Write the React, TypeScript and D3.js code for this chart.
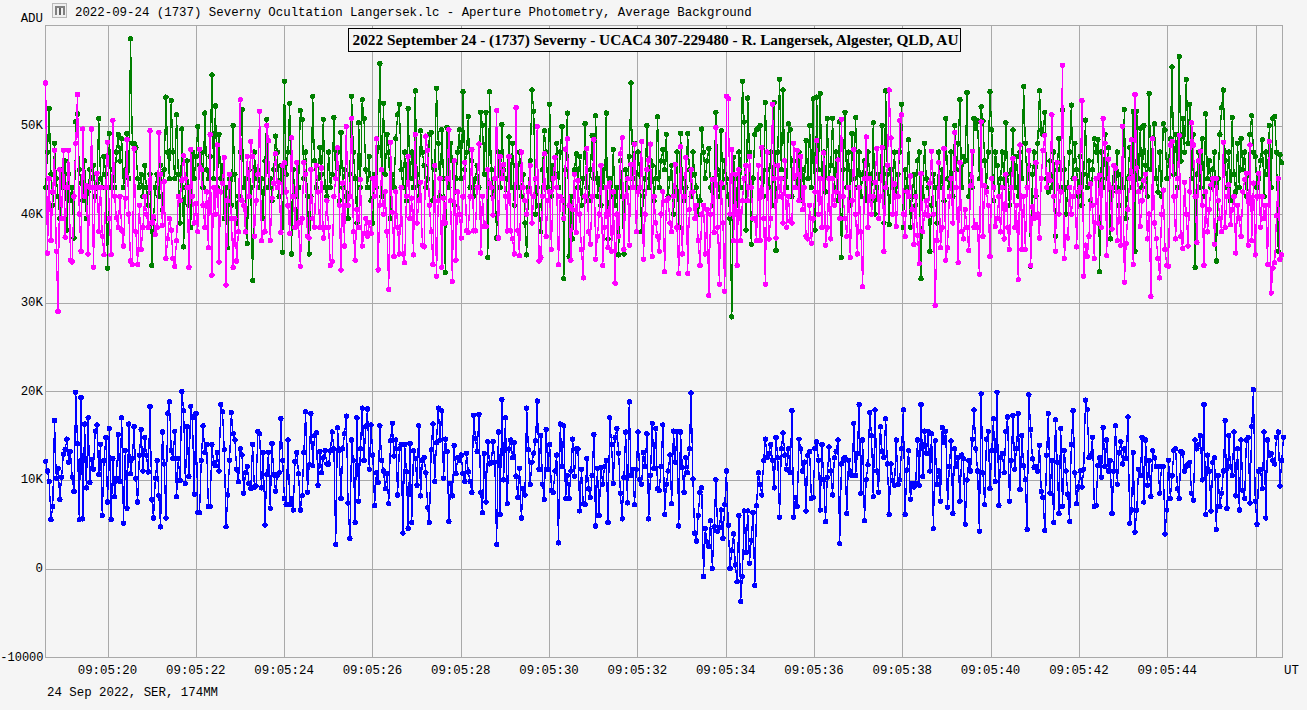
import React from "react";
import * as d3 from "d3";

// All photometry values are in hundreds of ADU.
const greenSeries = [
430,470,519,445,410,480,440,420,395,450,
430,460,382,445,415,430,373,504,513,450,
435,415,460,395,425,450,440,455,420,435,
508,440,430,465,445,339,491,430,450,430,
470,490,460,485,430,450,491,440,598,480,
480,475,440,430,445,420,455,430,410,445,
342,395,430,445,420,455,405,450,532,470,
440,528,470,440,512,445,390,496,363,430,
460,410,385,470,440,465,499,455,470,430,
514,450,440,465,557,440,522,430,490,440,
455,395,430,362,440,410,500,445,390,420,
470,518,430,440,367,450,430,325,470,440,
450,430,440,395,460,507,430,440,415,450,
488,470,420,455,357,550,445,470,525,355,
450,420,395,430,517,507,440,470,420,355,
420,533,460,430,440,475,445,507,430,420,
470,430,445,509,440,470,415,492,430,450,
420,395,445,533,470,440,390,503,430,529,
508,450,430,465,415,390,445,430,475,570,
420,525,445,490,470,395,445,430,485,512,
524,450,430,470,415,519,440,470,430,539,
445,420,494,470,455,430,440,490,492,415,
450,542,480,420,495,440,334,498,430,480,
460,410,440,470,495,
440,538,450,470,510,430,460,420,440,455,
430,515,500,445,515,351,538,450,420,440,
373,470,430,501,450,420,440,487,430,480,
410,455,430,470,420,445,390,354,430,460,
540,516,400,430,410,380,450,494,470,430,
524,420,455,445,480,430,470,499,327,450,
514,352,420,372,450,468,430,465,410,440,
502,430,415,450,489,440,511,420,440,410,
450,430,514,372,440,420,473,410,430,354,
460,420,355,450,430,465,548,440,480,430,
470,445,380,420,440,500,430,460,455,415,
440,510,430,460,473,450,490,420,440,455,
400,430,470,385,491,440,415,430,491,450,
420,470,445,430,400,415,496,470,440,460,
474,430,410,440,515,450,420,494,430,460,
440,420,395,284,464,440,410,470,430,550,
504,382,531,470,366,440,490,495,497,500,
440,420,526,450,430,470,410,526,359,470,
552,450,540,440,430,502,495,420,460,440,
430,470,415,450,430,483,440,500,430,530,
382,532,450,536,440,470,425,508,440,455,
508,430,470,415,504,351,450,515,430,470,
410,491,440,509,430,470,420,445,460,415,
470,445,415,503,400,430,445,440,500,390,539,
445,388,450,430,470,420,445,470,524,385,
450,430,484,385,420,445,410,460,470,327,
420,480,440,430,358,410,445,430,390,470,
430,450,415,508,440,430,470,420,500,450,
480,529,430,465,460,537,420,445,430,508,
497,505,440,521,505,460,430,470,538,495,
415,470,455,420,440,470,430,503,445,410,
450,495,430,465,420,470,440,544,480,430,
455,341,445,470,420,480,539,495,490,515,
440,425,460,430,470,375,450,485,430,517,
450,400,430,470,523,440,480,450,420,465,
410,445,506,430,460,415,450,485,470,484,
335,470,430,490,440,475,372,425,455,430,
470,410,445,430,518,395,440,475,430,516,
358,516,440,497,430,500,455,420,536,450,
485,502,440,425,470,420,502,495,440,460,
485,566,445,490,430,578,460,508,470,552,
480,524,440,490,340,445,470,430,485,420,
513,440,460,430,450,470,347,440,490,520,
540,460,430,470,415,509,445,425,480,430,
485,450,470,420,445,490,511,470,465,430,
440,460,484,420,470,445,500,430,508,510,470,358,467,458];

const magentaSeries = [
548,356,440,370,425,472,358,290,450,395,
472,374,430,472,348,346,420,480,535,400,
358,496,420,432,355,430,496,340,430,446,
380,430,375,354,430,481,395,354,506,420,
396,385,420,382,364,418,484,400,347,343,
474,380,343,410,360,385,420,400,385,494,
390,397,377,385,492,445,387,437,350,372,
395,382,350,341,370,420,415,438,466,440,
430,340,473,420,390,412,380,473,450,410,
385,425,362,490,331,430,400,478,346,425,
435,464,320,415,445,395,340,395,347,380,
529,415,410,380,465,420,482,465,375,415,
445,516,370,379,380,500,483,370,418,435,
468,430,435,379,455,458,425,410,378,486,
420,385,458,390,341,395,458,445,375,373,
450,395,385,455,425,385,452,373,385,415,
385,342,346,420,440,475,410,337,435,364,
499,410,420,508,380,348,405,385,439,364,
378,395,375,390,378,440,420,485,337,410,
450,400,425,380,315,481,402,352,425,385,
355,430,355,345,420,465,395,418,354,490,
390,415,436,365,363,488,472,410,380,343,
455,330,415,440,340,418,390,440,495,415,
324,460,348,425,400,
373,420,458,381,379,420,473,381,381,430,
479,356,420,386,386,450,435,430,399,440,
517,373,465,440,456,420,381,465,381,372,
355,520,381,353,470,430,415,400,425,455,
390,420,440,499,347,351,420,468,375,415,
425,360,440,464,430,343,420,415,395,473,
485,410,348,405,445,379,438,400,360,328,
420,474,380,366,420,484,349,375,400,455,
342,385,430,362,435,358,425,322,400,375,
468,486,360,420,440,365,456,430,479,380,
425,430,482,349,400,450,461,479,352,420,
390,375,358,400,425,335,415,418,390,380,
420,456,385,333,476,355,420,464,333,405,
450,425,395,410,370,342,400,410,355,405,
308,400,439,379,498,385,321,435,390,313,
533,530,400,473,370,445,342,450,370,415,
440,455,415,465,430,395,395,370,455,370,
475,395,321,470,372,395,524,440,373,455,
420,440,390,460,385,420,392,390,480,430,
472,415,465,405,430,375,372,410,367,395,
425,483,400,440,385,469,365,385,440,372,
440,410,425,461,395,507,420,395,375,430,
351,415,473,400,355,430,380,318,440,487,
385,440,400,420,436,474,395,420,475,358,430,
455,540,486,400,434,386,420,506,512,400,
375,425,420,443,405,366,420,376,344,446,
380,400,415,398,435,471,400,297,370,458,
362,385,474,348,362,420,440,390,492,430,
345,458,380,372,405,385,359,432,471,385,
388,385,332,504,375,432,425,410,352,440,
430,386,395,420,380,430,372,445,385,360,
430,463,385,410,326,478,360,420,360,430,
472,342,408,395,458,400,373,440,472,489,
430,445,438,512,420,358,458,400,425,568,
350,375,373,430,400,420,440,363,425,430,
528,330,365,352,375,434,410,350,440,390,
444,385,508,480,353,462,430,383,455,452,
370,425,365,499,323,367,405,440,484,343,
535,452,425,386,415,438,445,372,400,307,
485,390,372,350,328,400,427,360,342,341,
478,482,420,372,440,489,375,361,436,400,
364,425,503,478,420,368,460,471,410,342,
425,380,405,433,440,366,440,415,395,380,
481,385,420,433,388,405,420,356,410,395,
375,425,439,446,365,478,370,435,354,420,
446,385,420,395,410,343,482,311,339,345,398,440,349,354];

const blueSeries = [
121,110,98,55,70,167,102,113,78,103,
129,134,146,120,132,103,87,199,141,55,
193,56,163,91,170,97,123,112,155,162,
106,140,60,122,148,75,158,55,124,81,
102,151,98,170,51,133,68,163,107,124,
160,102,75,128,157,110,148,128,109,183,
78,57,102,122,82,47,154,118,57,175,
188,133,124,155,81,124,99,200,178,96,
160,104,183,170,84,175,63,63,122,161,
131,140,70,70,140,119,116,131,110,185,
177,134,47,83,122,176,152,145,112,98,
135,128,85,108,115,96,90,140,92,93,
155,152,91,131,49,106,131,68,141,106,
87,105,108,169,122,79,72,145,72,79,
66,121,131,107,66,82,131,177,86,117,
175,116,150,153,94,132,108,125,133,118,
118,133,154,135,27,159,133,79,135,152,
172,74,34,145,122,52,170,76,135,181,
122,160,180,112,162,128,71,108,97,161,
122,110,90,107,73,144,164,127,145,83,
135,140,40,140,109,45,141,52,133,124,
94,161,82,122,125,108,69,52,134,163,
98,142,181,145,178,102,146,132,53,96,
82,139,107,125,122,
128,107,98,130,109,98,86,173,147,132,
174,86,63,130,75,143,118,120,143,120,
27,154,61,191,100,170,73,135,145,125,
142,104,80,113,57,90,83,181,134,95,
120,130,144,189,112,150,95,78,157,112,
140,88,86,110,128,29,163,115,161,79,
105,79,110,146,104,135,135,65,112,73,
72,124,90,80,105,151,48,113,60,114,
95,115,122,52,170,140,96,148,158,130,
85,56,103,154,74,188,105,112,72,112,
154,100,95,131,115,152,56,105,164,113,
158,90,88,115,162,61,95,110,128,73,
155,120,155,48,154,114,86,125,108,135,
198,101,40,31,60,86,91,-9,45,30,
25,54,0,47,100,42,46,66,34,72,
110,49,0,20,39,4,-15,60,-37,-9,
65,18,65,6,32,63,-19,71,108,95,
83,122,146,125,130,140,122,91,148,125,
58,135,153,128,112,135,108,178,58,80,
70,146,135,110,120,65,128,132,79,80,
135,143,122,66,140,100,53,103,137,110,
83,125,132,145,28,118,123,125,62,122,
110,105,164,105,130,185,85,145,54,100,
117,176,150,81,179,110,86,160,132,125,
169,118,61,118,99,94,145,95,100,135,
179,61,111,133,78,96,92,96,145,94,
185,104,155,130,155,110,152,45,144,95,
110,76,159,142,155,69,115,144,62,135,
115,125,76,128,124,50,100,122,110,146,
179,135,110,42,197,108,72,146,155,90,
133,169,98,199,71,125,130,108,155,171,
76,122,173,112,135,175,89,150,116,100,
44,196,157,124,114,115,110,139,87,80,
43,128,175,85,122,52,168,120,62,158,
70,133,110,84,53,140,178,108,73,92,
110,92,112,190,179,125,128,148,70,71,
116,125,103,159,115,145,110,122,62,110,
161,95,131,143,118,135,124,171,51,66,
131,41,66,112,105,148,75,145,94,122,
81,133,125,115,115,85,115,115,39,66,
122,79,105,133,135,90,79,132,130,110,
115,118,120,85,77,145,135,140,150,100,
185,61,128,110,65,120,125,44,105,70,
85,110,167,68,150,115,105,154,82,135,
66,145,88,79,145,148,74,160,202,76,
50,110,112,90,154,57,145,128,130,122,118,148,154,93,122,148];

const yTickValues = [0, 100, 200, 300, 400, 500];
const yTickLabels = ["0", "10K", "20K", "30K", "40K", "50K"];
const xTickSeconds = [20, 22, 24, 26, 28, 30, 32, 34, 36, 38, 40, 42, 44, 46];
const xTickLabels = ["09:05:20", "09:05:22", "09:05:24", "09:05:26", "09:05:28", "09:05:30", "09:05:32", "09:05:34", "09:05:36", "09:05:38", "09:05:40", "09:05:42", "09:05:44", ""];

const W = 1307, H = 710;
const L = 45.5, R = 1282.5, T = 25.5, B = 657.5;
const MONO = "'Liberation Mono', monospace";
const GRID = "#a9a9a9";
const BG = "#f5f5f5";

const startSecond = 18.6;
const frameInterval = 0.04005;
const x = d3.scaleLinear().domain([20, 46]).range([107.5, 1255.5]);
const y = d3.scaleLinear().domain([-100, 0, 500]).range([B, 568.5, 125.5]);

function Series({ data, color }: { data: number[]; color: string }) {
  const pts = data.map((v, i) => [x(startSecond + i * frameInterval), y(v)] as [number, number]);
  const line = d3.line();
  return (
    <g>
      <path d={line(pts) || ""} fill="none" stroke={color} strokeWidth={1.3} shapeRendering="crispEdges" />
      {pts.map((p, i) => (
        <circle key={i} cx={p[0]} cy={p[1]} r={2.7} fill={color} shapeRendering="crispEdges" />
      ))}
    </g>
  );
}

export default function App() {
  return (
    <svg width={W} height={H} style={{ position: "absolute", left: 0, top: 0, display: "block", background: BG }}>
      <rect x={L} y={T} width={R - L} height={B - T} fill="none" stroke={GRID} strokeWidth={1} shapeRendering="crispEdges" />
      {xTickSeconds.map((s) => (
        <line key={s} x1={Math.round(x(s)) + 0.5} x2={Math.round(x(s)) + 0.5} y1={T} y2={B} stroke={GRID} shapeRendering="crispEdges" />
      ))}
      {yTickValues.map((v) => (
        <line key={v} x1={L} x2={R} y1={Math.round(y(v)) + 0.5} y2={Math.round(y(v)) + 0.5} stroke={GRID} shapeRendering="crispEdges" />
      ))}
      <Series data={greenSeries} color="#008000" />
      <Series data={magentaSeries} color="#ff00ff" />
      <Series data={blueSeries} color="#0000ff" />

      <rect x={348.5} y={28.5} width={612} height={23} fill={BG} stroke="#000" shapeRendering="crispEdges" />
      <text x={655.5} y={45} textAnchor="middle" fontFamily="'Liberation Serif', serif" fontWeight="bold" fontSize={15.3} fill="#000">
        2022 September 24 - (1737) Severny - UCAC4 307-229480 - R. Langersek, Algester, QLD, AU
      </text>

      <g fontFamily={MONO} fontSize={12.4} fill="#000">
        <text x={75} y={16}>2022-09-24 (1737) Severny Ocultation Langersek.lc - Aperture Photometry, Average Background</text>
        <text x={43} y={22} textAnchor="end">ADU</text>
        {yTickValues.map((v, i) => (
          <text key={v} x={43} y={y(v) + 3.5} textAnchor="end">{yTickLabels[i]}</text>
        ))}
        <text x={43.5} y={B + 3.5} textAnchor="end" fontSize={12}>-10000</text>
        {xTickSeconds.map((s, i) => (
          <text key={s} x={x(s)} y={674} textAnchor="middle">{xTickLabels[i]}</text>
        ))}
        <text x={1284} y={674}>UT</text>
        <text x={47} y={696}>24 Sep 2022, SER, 174MM</text>
      </g>

      <g shapeRendering="crispEdges">
        <rect x={52.5} y={3.5} width={14} height={14} fill="#efefef" stroke="#b8b8b8" />
        <rect x={55} y={6} width={10} height={2} fill="#808080" />
        <rect x={55} y={8} width={2} height={7} fill="#808080" />
        <rect x={59} y={8} width={2} height={7} fill="#606060" />
        <rect x={63} y={8} width={2} height={7} fill="#808080" />
      </g>
    </svg>
  );
}
